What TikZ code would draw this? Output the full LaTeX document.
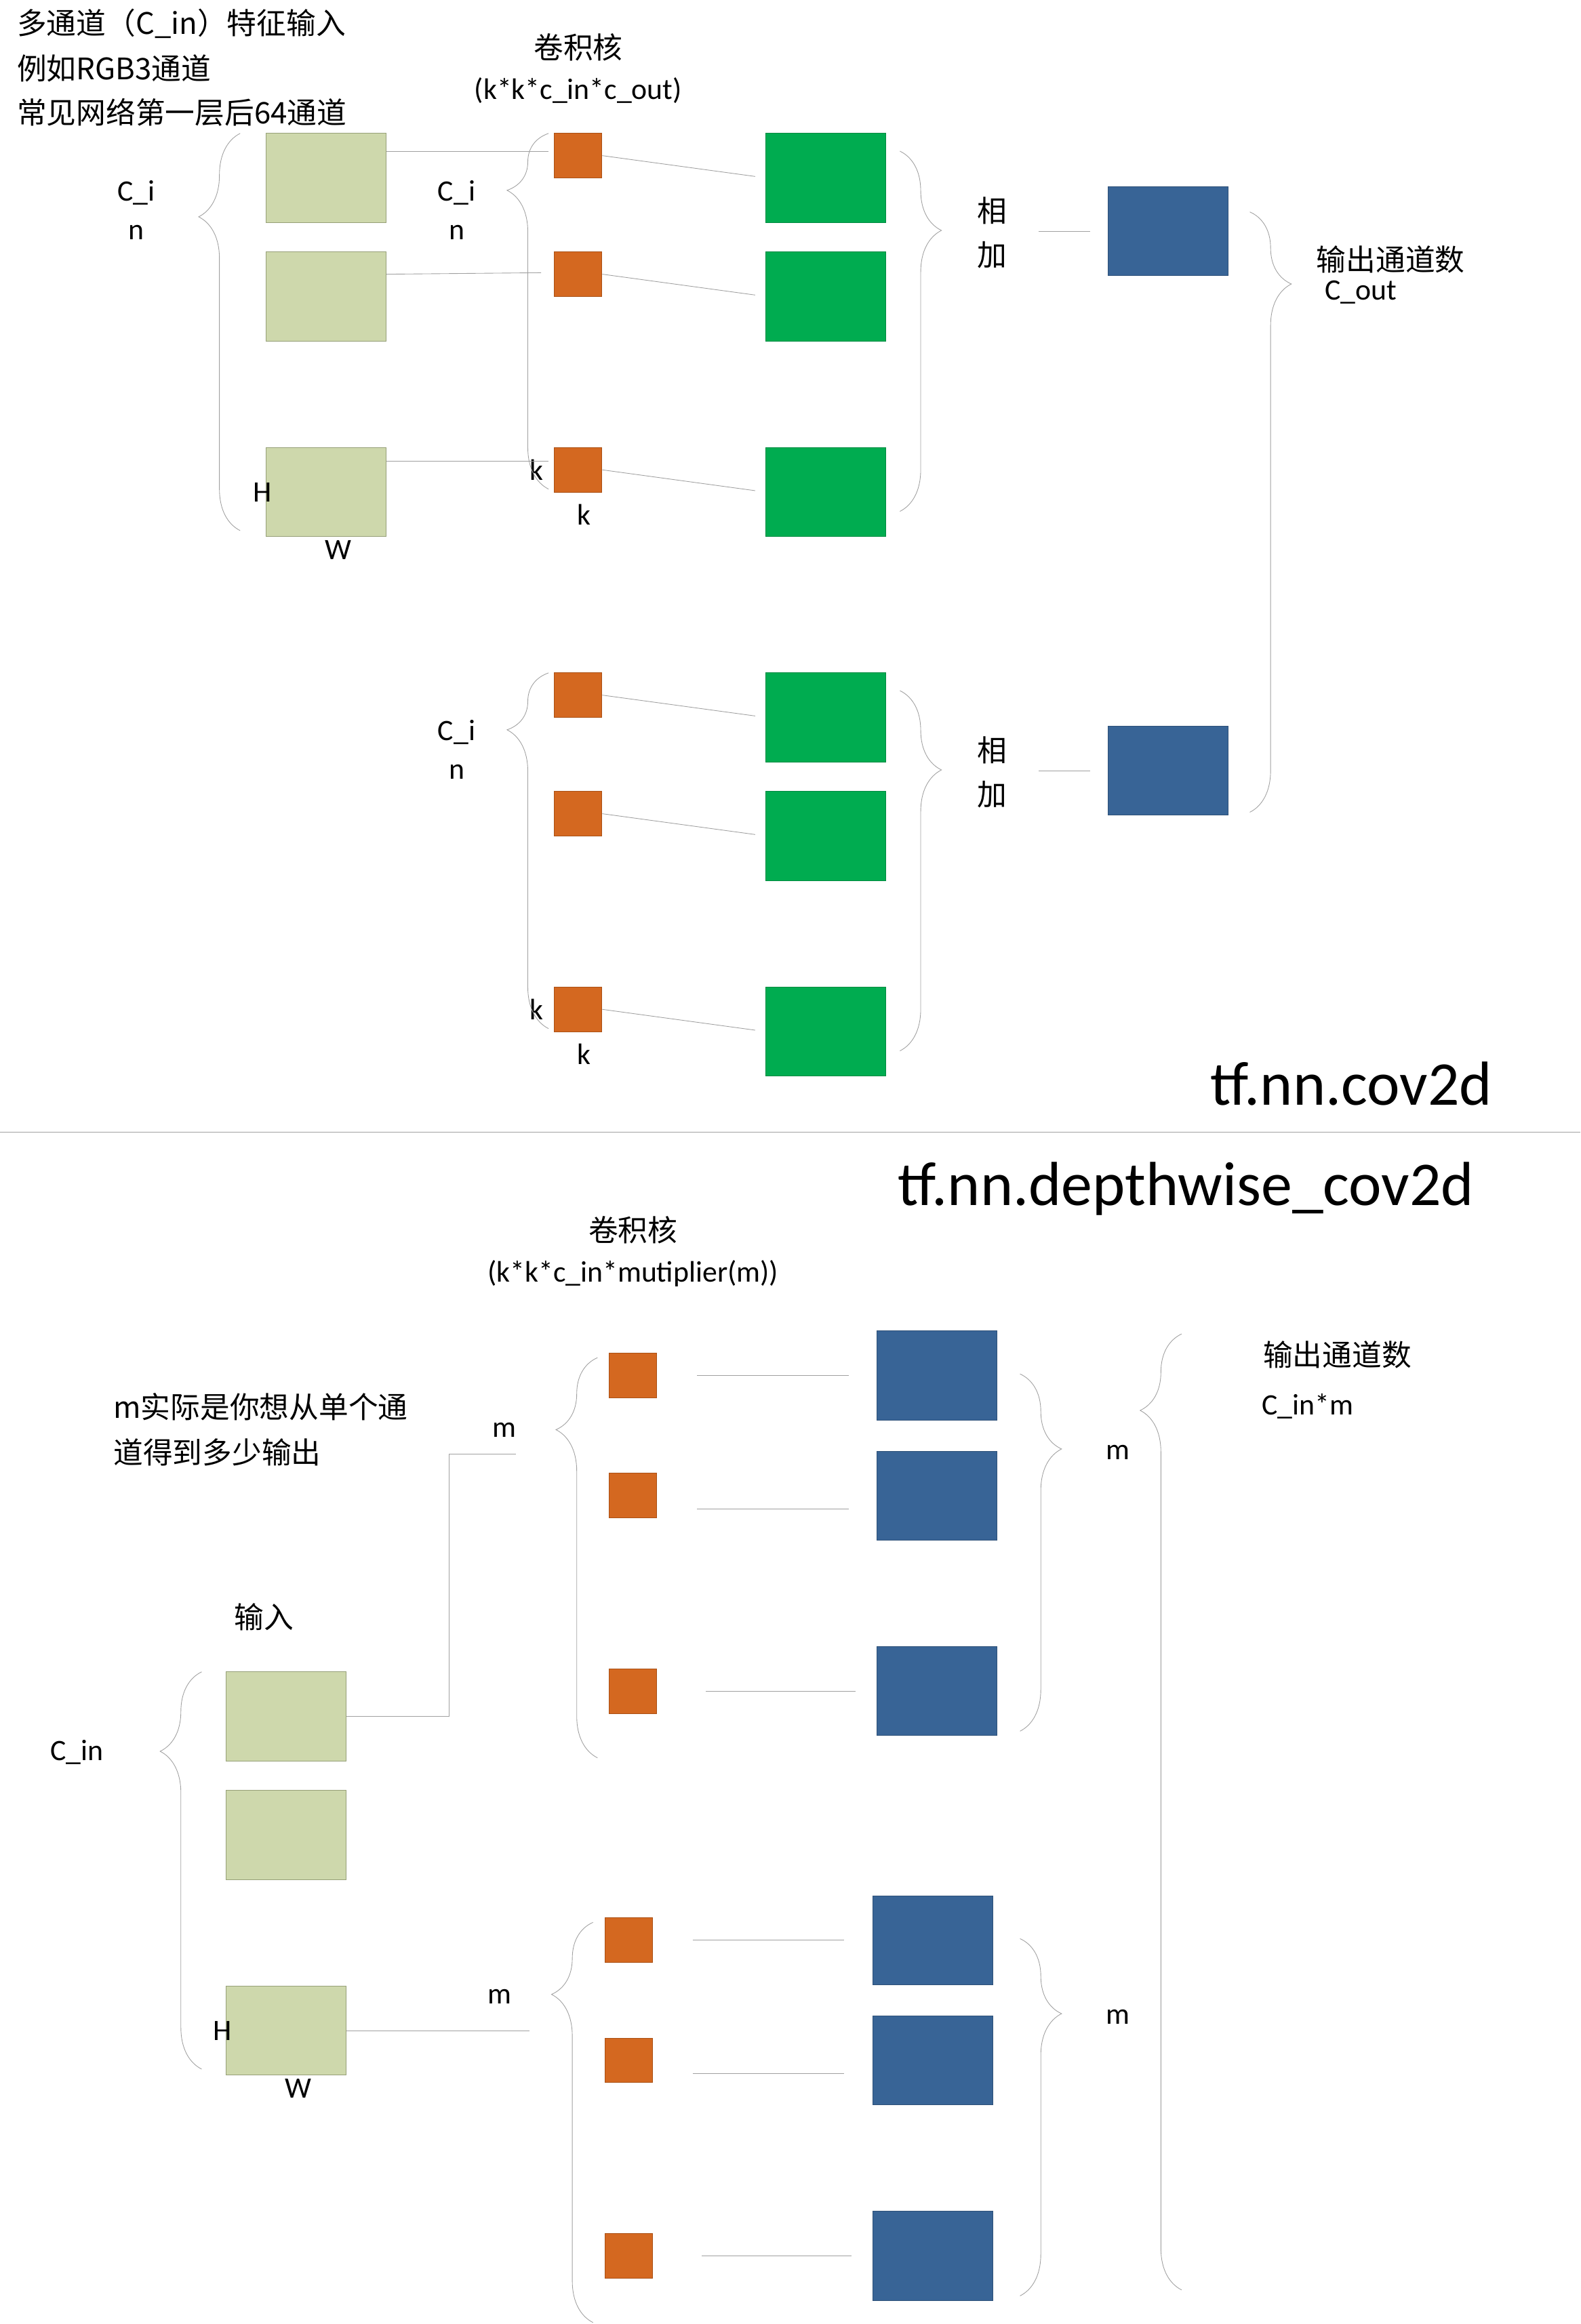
\documentclass[tikz,border=0pt]{standalone}
\usepackage{fontspec}
\setmainfont{Carlito}
\newfontfamily\cjk{Noto Sans CJK SC}
\usetikzlibrary{decorations.pathreplacing}
\definecolor{mapfill}{RGB}{206,216,172}
\definecolor{mapdraw}{RGB}{150,160,120}
\definecolor{kernfill}{RGB}{212,104,32}
\definecolor{kerndraw}{RGB}{170,80,20}
\definecolor{outgreen}{RGB}{0,172,80}
\definecolor{outblue}{RGB}{56,100,150}
\definecolor{lncol}{RGB}{160,160,160}
\begin{document}
\begin{tikzpicture}[x=1pt,y=-1pt,font=\fontsize{20}{24}\selectfont]
\tikzstyle{fmap}=[rectangle, draw=mapdraw, fill=mapfill, minimum width=81pt, minimum height=60pt, inner sep=0pt]
\tikzstyle{kern}=[rectangle, draw=kerndraw, fill=kernfill, minimum width=32pt, minimum height=30pt, inner sep=0pt]
\tikzstyle{gbox}=[rectangle, draw=outgreen!80!black, fill=outgreen, minimum width=81pt, minimum height=60pt, inner sep=0pt]
\tikzstyle{bbox}=[rectangle, draw=outblue!80!black, fill=outblue, minimum width=81pt, minimum height=60pt, inner sep=0pt]
\tikzstyle{ln}=[draw=lncol, thin]
\tikzstyle{brc}=[draw=lncol, thin, decorate]
\tikzstyle{cn}=[font=\cjk\fontsize{20}{24}\selectfont]
\tikzstyle{big}=[font=\fontsize{42}{48}\selectfont]
\useasboundingbox (0,0) rectangle (1066,1568);
% ---- tf.nn.conv2d ----
\node[cn, anchor=west] (t1) at (8,16) {多通道（C\_in）特征输入};
\node[cn, anchor=west] (t2) at (8,46) {例如RGB3通道};
\node[cn, anchor=west] (t3) at (8,76) {常见网络第一层后64通道};
\node[cn] (kt) at (390,32) {卷积核};
\node (ks) at (390,61) {(k*k*c\_in*c\_out)};
\node[fmap] (f1) at (220,120) {};
\node[fmap] (f2) at (220,200) {};
\node[fmap] (f3) at (220,332) {};
\node (fh) at (177,332) {H};
\node (fw) at (228,371) {W};
\draw[brc, decoration={brace, amplitude=28pt, aspect=0.79}] (162,358) -- (162,90);
\node (ci1) at (92,130) {C\_i};
\node (ci2) at (92,157) {n};
\foreach \g/\o in {a/0, b/364}{
  \node[kern] (k1\g) at (390,105+\o) {};
  \node[kern] (k2\g) at (390,185+\o) {};
  \node[kern] (k3\g) at (390,317+\o) {};
  \node (kk1\g) at (362,317+\o) {k};
  \node (kk2\g) at (394,347+\o) {k};
  \node[gbox] (g1\g) at (557,120+\o) {};
  \node[gbox] (g2\g) at (557,200+\o) {};
  \node[gbox] (g3\g) at (557,332+\o) {};
  \foreach \i in {1,2,3}
    \draw[ln, shorten >=7pt] (k\i\g.east) -- (g\i\g.west);
  \draw[brc, decoration={brace, amplitude=28pt, aspect=0.84}] (370,330+\o) -- (370,90+\o);
  \node (c\g1) at (308,130+\o) {C\_i};
  \node (c\g2) at (308,157+\o) {n};
  \draw[brc, decoration={brace, amplitude=28pt, aspect=0.22}] (607,102+\o) -- (607,345+\o);
  \node[cn] (x\g1) at (669,142+\o) {相};
  \node[cn] (x\g2) at (669,172+\o) {加};
  \node[bbox] (s\g) at (788,156+\o) {};
  \draw[ln, shorten <=18pt, shorten >=12pt] (x\g1.east|-s\g.west) -- (s\g.west);
}
\draw[ln] (f1.east|-k1a) ++(0,-3) -- (370,102);
\draw[ln] (f2.east|-k2a) -- (365,184);
\draw[ln] (f3.east|-k3a) ++(0,-6) -- (370,311);
\draw[brc, decoration={brace, amplitude=28pt, aspect=0.12}] (843,143) -- (843,548);
\node[cn] (oc) at (938,175) {输出通道数};
\node (co) at (918,197) {C\_out};
\node[big, anchor=east] (n1) at (1010,731) {tf.nn.cov2d};
\draw[draw=lncol] (0,764) -- (1066,764);
% ---- tf.nn.depthwise_conv2d ----
\node[big] (n2) at (800,802) {tf.nn.depthwise\_cov2d};
\node[cn] (kt2) at (427,830) {卷积核};
\node (ks2) at (427,859) {(k*k*c\_in*mutiplier(m))};
\node[cn, anchor=west] (m1) at (73,949) {m实际是你想从单个通};
\node[cn, anchor=west] (m2) at (73,980) {道得到多少输出};
\node[cn] (in) at (178,1091) {输入};
\node[fmap] (d1) at (193,1158) {};
\node[fmap] (d2) at (193,1238) {};
\node[fmap] (d3) at (193,1370) {};
\node (dh) at (150,1370) {H};
\node (dw) at (201,1409) {W};
\draw[brc, decoration={brace, amplitude=28pt, aspect=0.8}] (136,1396) -- (136,1128);
\node (cin) at (52,1182) {C\_in};
\foreach \g/\o/\dx in {a/0/0, b/381/-3}{
  \node[kern] (q1\g) at (427+\dx,928+\o) {};
  \node[kern] (q2\g) at (427+\dx,1009+\o) {};
  \node[kern] (q3\g) at (427+\dx,1141+\o) {};
  \node[bbox] (b1\g) at (632+\dx,928+\o) {};
  \node[bbox] (b2\g) at (632+\dx,1009+\o) {};
  \node[bbox] (b3\g) at (632+\dx,1141+\o) {};
  \draw[ln, shorten <=27pt, shorten >=19pt] (q1\g.east) -- (b1\g.west);
  \draw[ln, shorten <=27pt, shorten >=19pt] ([yshift=-9pt]q2\g.east) -- ([yshift=-9pt]b2\g.west);
  \draw[ln, shorten <=33pt, shorten >=14pt] (q3\g.east) -- (b3\g.west);
  \draw[brc, decoration={brace, amplitude=28pt, aspect=0.82}] (403+\dx,1186+\o) -- (403+\dx,916+\o);
  \draw[brc, decoration={brace, amplitude=28pt, aspect=0.21}] (688,927+\o) -- (688,1168+\o);
  \node (mm\g) at (754,980+\o) {m};
}
\coordinate (j1) at (348,981);
\draw[ln] (d1.east) -- (303,1158) -- (303,981) -- (j1);
\node (ma) at (340,965) {m};
\coordinate (j2) at (357,1370);
\draw[ln] (d3.east) -- (j2);
\node (mb) at (337,1347) {m};
\draw[brc, decoration={brace, amplitude=28pt, aspect=0.92}] (797,1545) -- (797,900);
\node[cn] (oc2) at (902,914) {输出通道数};
\node (cm) at (882,949) {C\_in*m};
\end{tikzpicture}
\end{document}
